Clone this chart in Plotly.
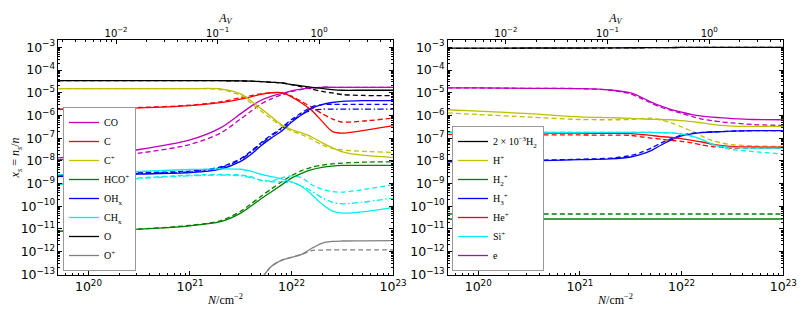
import plotly.graph_objects as go

# column density grid (log10 N / cm^-2)
logN = [19.7, 20.0, 20.5, 21.0, 21.3, 21.5, 21.6, 21.7, 21.8, 21.9,
        22.0, 22.1, 22.2, 22.3, 22.4, 22.5, 22.7, 23.0]
N_AV1 = 1.87e22  # column density at A_V = 1 (top axis)

# ---- left panel: log10 abundances ----
CO_solid = [-7.87, -7.76, -7.50, -7.08, -6.55, -5.92, -5.60, -5.33, -5.16, -5.04, -4.92, -4.84, -4.79, -4.76, -4.76, -4.76, -4.76, -4.76]
CO_dash = [-7.95, -7.88, -7.66, -7.28, -6.78, -6.15, -5.82, -5.50, -5.27, -5.10, -4.95, -4.85, -4.79, -4.76, -4.76, -4.76, -4.76, -4.76]
C_solid = [-5.73, -5.71, -5.67, -5.57, -5.44, -5.28, -5.18, -5.07, -5.00, -5.00, -5.18, -5.45, -5.78, -6.25, -6.70, -6.78, -6.67, -6.45]
C_dash = [-5.73, -5.70, -5.65, -5.55, -5.40, -5.22, -5.13, -5.05, -5.00, -5.01, -5.15, -5.38, -5.65, -5.92, -6.15, -6.29, -6.25, -6.12]
Cp_solid = [-4.82, -4.82, -4.82, -4.82, -4.83, -5.05, -5.35, -5.70, -6.05, -6.40, -6.62, -6.77, -6.95, -7.20, -7.42, -7.60, -7.75, -7.85]
Cp_dash = [-4.82, -4.82, -4.82, -4.82, -4.86, -5.12, -5.45, -5.80, -6.15, -6.45, -6.68, -6.85, -7.05, -7.30, -7.45, -7.52, -7.58, -7.63]
HCOp_solid = [-11.11, -11.07, -11.01, -10.86, -10.68, -10.30, -10.00, -9.67, -9.37, -9.07, -8.76, -8.55, -8.39, -8.29, -8.23, -8.20, -8.20, -8.20]
HCOp_dash = [-11.10, -11.06, -11.00, -10.84, -10.64, -10.22, -9.90, -9.56, -9.24, -8.93, -8.65, -8.43, -8.28, -8.19, -8.13, -8.10, -8.06, -8.04]
OHx_solid = [-8.69, -8.63, -8.58, -8.52, -8.36, -8.02, -7.72, -7.33, -7.00, -6.70, -6.30, -5.97, -5.68, -5.52, -5.43, -5.38, -5.35, -5.35]
OHx_dash = [-8.63, -8.58, -8.52, -8.45, -8.27, -7.90, -7.58, -7.20, -6.86, -6.55, -6.18, -5.88, -5.62, -5.52, -5.51, -5.51, -5.51, -5.51]
OHx_dashdot = [-8.66, -8.61, -8.55, -8.48, -8.30, -7.94, -7.62, -7.25, -6.91, -6.60, -6.24, -5.95, -5.78, -5.73, -5.72, -5.72, -5.72, -5.72]
CHx_solid = [-8.62, -8.56, -8.47, -8.38, -8.35, -8.37, -8.45, -8.59, -8.69, -8.79, -8.92, -9.13, -9.49, -9.90, -10.20, -10.30, -10.25, -10.05]
CHx_dash = [-9.02, -8.90, -8.75, -8.63, -8.60, -8.63, -8.70, -8.85, -8.88, -8.75, -8.66, -8.75, -9.05, -9.25, -9.35, -9.38, -9.27, -9.05]
CHx_dashdot = [-9.05, -8.93, -8.78, -8.66, -8.63, -8.66, -8.74, -8.86, -8.92, -8.92, -8.95, -9.10, -9.34, -9.62, -9.82, -9.89, -9.82, -9.64]
O_solid = [-4.47, -4.47, -4.47, -4.47, -4.47, -4.48, -4.49, -4.51, -4.54, -4.57, -4.64, -4.70, -4.76, -4.81, -4.86, -4.89, -4.89, -4.89]
O_dash = [-4.47, -4.47, -4.47, -4.47, -4.47, -4.48, -4.49, -4.51, -4.54, -4.57, -4.64, -4.74, -4.84, -4.94, -5.01, -5.08, -5.12, -5.13]
Op_solid = [None, None, None, None, None, None, -13.6, -13.2, -12.65, -12.38, -12.25, -12.12, -11.85, -11.63, -11.55, -11.53, -11.52, -11.51]
Op_dash = [None, None, None, None, None, None, -13.6, -13.2, -12.65, -12.38, -12.25, -12.12, -11.95, -11.93, -11.92, -11.92, -11.92, -11.92]

# ---- right panel ----
H2_solid = [-3.04, -3.035, -3.03, -3.03, -3.025, -3.02, -3.02, -3.015, -3.01, -3.01, -3.005, -3.0, -3.0, -3.0, -3.0, -3.0, -3.0, -3.0]
H2_dash = [-3.05, -3.045, -3.04, -3.035, -3.03, -3.025, -3.02, -3.015, -3.01, -3.01, -3.005, -3.0, -3.0, -3.0, -3.0, -3.0, -3.0, -3.0]
Hp_solid = [-5.75, -5.81, -5.92, -6.06, -6.10, -6.13, -6.15, -6.17, -6.18, -6.19, -6.23, -6.27, -6.33, -6.39, -6.44, -6.47, -6.48, -6.48]
Hp_dash = [-5.89, -5.96, -6.07, -6.18, -6.19, -6.18, -6.14, -6.12, -6.20, -6.33, -6.51, -6.69, -6.91, -7.11, -7.22, -7.29, -7.34, -7.37]
H2p_solid = [-10.56] * 18
H2p_dash = [-10.34] * 18
H3p_solid = [-8.04, -8.02, -8.00, -7.95, -7.91, -7.83, -7.72, -7.55, -7.30, -7.08, -6.90, -6.81, -6.76, -6.73, -6.71, -6.69, -6.67, -6.67]
H3p_dash = [-8.02, -8.01, -7.98, -7.93, -7.88, -7.77, -7.63, -7.44, -7.21, -7.02, -6.86, -6.79, -6.75, -6.73, -6.71, -6.69, -6.67, -6.67]
Hep_solid = [-6.75, -6.76, -6.77, -6.78, -6.79, -6.80, -6.84, -6.88, -6.93, -6.97, -7.02, -7.10, -7.17, -7.26, -7.33, -7.37, -7.39, -7.40]
Hep_dash = [-6.83, -6.84, -6.85, -6.86, -6.87, -6.88, -6.94, -7.00, -7.05, -7.10, -7.14, -7.21, -7.30, -7.37, -7.41, -7.44, -7.44, -7.44]
Sip_solid = [-6.75, -6.75, -6.75, -6.75, -6.75, -6.75, -6.75, -6.75, -6.76, -6.77, -6.82, -6.91, -7.06, -7.26, -7.37, -7.41, -7.44, -7.44]
Sip_dash = [-6.75, -6.75, -6.75, -6.75, -6.75, -6.75, -6.75, -6.75, -6.76, -6.77, -6.82, -6.91, -7.06, -7.30, -7.41, -7.50, -7.59, -7.70]
e_solid = [-4.79, -4.79, -4.81, -4.82, -4.88, -5.01, -5.19, -5.41, -5.59, -5.74, -5.85, -5.96, -6.03, -6.07, -6.11, -6.14, -6.18, -6.19]
e_dash = [-4.79, -4.79, -4.81, -4.82, -4.89, -5.06, -5.25, -5.45, -5.65, -5.78, -5.91, -6.04, -6.16, -6.23, -6.29, -6.33, -6.40, -6.44]

# top-axis tick labels
AV_ticks = [0.01, 0.1, 1.0]
AV_labels = ["10<sup>−2</sup>", "10<sup>−1</sup>", "10<sup>0</sup>"]

N = [10 ** v for v in logN]
def lin(arr):
    return [None if v is None else 10 ** v for v in arr]

M, R, Y, G, B, C, K, GR = "#bf00bf", "#ff0000", "#bfbf00", "#008000", "#0000ff", "#00f0f0", "#000000", "#808080"
DASH = "5px,3px"
DASHDOT = "6px,2.5px,1.5px,2.5px"

left = [
    ("CO", M, CO_solid, CO_dash, None),
    ("C", R, C_solid, C_dash, None),
    ("C<sup>+</sup>", Y, Cp_solid, Cp_dash, None),
    ("HCO<sup>+</sup>", G, HCOp_solid, HCOp_dash, None),
    ("OH<sub>x</sub>", B, OHx_solid, OHx_dash, OHx_dashdot),
    ("CH<sub>x</sub>", C, CHx_solid, CHx_dash, CHx_dashdot),
    ("O", K, O_solid, O_dash, None),
    ("O<sup>+</sup>", GR, Op_solid, Op_dash, None),
]
right = [
    ("2 × 10<sup>−3</sup>H<sub>2</sub>", K, H2_solid, H2_dash, None),
    ("H<sup>+</sup>", Y, Hp_solid, Hp_dash, None),
    ("H<sub>2</sub><sup>+</sup>", G, H2p_solid, H2p_dash, None),
    ("H<sub>3</sub><sup>+</sup>", B, H3p_solid, H3p_dash, None),
    ("He<sup>+</sup>", R, Hep_solid, Hep_dash, None),
    ("Si<sup>+</sup>", C, Sip_solid, Sip_dash, None),
    ("e", M, e_solid, e_dash, None),
]

fig = go.Figure()

def add_panel(series, xa, ya, legend):
    for name, col, s, d, dd in series:
        fig.add_trace(go.Scatter(x=N, y=lin(d), xaxis=xa, yaxis=ya, mode="lines",
                                 line=dict(color=col, width=1.3, dash=DASH, shape="spline", smoothing=0.8),
                                 showlegend=False, hoverinfo="skip"))
        if dd is not None:
            fig.add_trace(go.Scatter(x=N, y=lin(dd), xaxis=xa, yaxis=ya, mode="lines",
                                     line=dict(color=col, width=1.3, dash=DASHDOT, shape="spline", smoothing=0.8),
                                     showlegend=False, hoverinfo="skip"))
    for name, col, s, d, dd in series:
        fig.add_trace(go.Scatter(x=N, y=lin(s), xaxis=xa, yaxis=ya, mode="lines", name=name,
                                 line=dict(color=col, width=1.3, shape="spline", smoothing=0.8),
                                 legend=legend))

add_panel(left, "x", "y", "legend")
add_panel(right, "x2", "y2", "legend2")

# invisible traces carrying the A_V top axes
AV = [n / N_AV1 for n in N]
fig.add_trace(go.Scatter(x=AV, y=[None] * len(AV), xaxis="x3", yaxis="y", showlegend=False, hoverinfo="skip"))
fig.add_trace(go.Scatter(x=AV, y=[None] * len(AV), xaxis="x4", yaxis="y2", showlegend=False, hoverinfo="skip"))

tickfont = dict(family="DejaVu Sans", size=10, color="black")
titlefont = dict(family="Liberation Serif", size=12, color="black")
minor = dict(ticks="inside", ticklen=2, tickcolor="black", tickwidth=0.8, dtick="D1", showgrid=False)

xr = [logN[0], logN[-1]]
avr = [logN[0] - 22.2718, logN[-1] - 22.2718]

# the page body has an 8px margin: figure is drawn at (8, 8)
FW, FH = 798, 314
def fx(px):
    return (px - 8) / FW
def fy(py):
    return (FH - (py - 8)) / FH

ydom = [fy(275.3), fy(39.5)]
yr = [-13.04, -2.656]

def xax(dom, anchor):
    return dict(type="log", domain=dom, anchor=anchor, range=xr, dtick=1, exponentformat="power",
                showline=True, linecolor="black", linewidth=1, mirror=True, ticks="inside",
                ticklen=4, tickcolor="black", minor=minor, showgrid=False, zeroline=False,
                tickfont=tickfont, automargin=False,
                title=dict(text="<i>N</i>/cm<sup>−2</sup>", font=titlefont, standoff=2))

def topax(over, anchor):
    return dict(type="log", overlaying=over, anchor=anchor, side="top", range=avr,
                tickmode="array", tickvals=AV_ticks, ticktext=AV_labels,
                ticks="inside", ticklen=4, tickcolor="black",
                minor=minor, showgrid=False, zeroline=False, showline=False, tickfont=tickfont,
                automargin=False, title=dict(text="<i>A<sub>V</sub></i>", font=titlefont, standoff=0))

def yax(anchor, title):
    return dict(type="log", domain=ydom, anchor=anchor, range=yr, dtick=1, exponentformat="power",
                showline=True, linecolor="black", linewidth=1, mirror="ticks", ticks="inside",
                ticklen=4, tickcolor="black", minor=minor, showgrid=False, zeroline=False,
                tickfont=tickfont, automargin=False,
                title=dict(text=title, font=titlefont, standoff=0))

legend_common = dict(bgcolor="white", bordercolor="#999999", borderwidth=1,
                     font=dict(family="Liberation Serif", size=10, color="black"),
                     itemwidth=30, tracegroupgap=0, xanchor="left", yanchor="bottom")

fig.update_layout(
    width=FW, height=FH, margin=dict(l=0, r=0, t=0, b=0),
    paper_bgcolor="white", plot_bgcolor="white", showlegend=True,
    xaxis=xax([fx(58), fx(393)], "y"),
    xaxis2=xax([fx(447.7), fx(783.3)], "y2"),
    xaxis3=topax("x", "y"),
    xaxis4=topax("x2", "y2"),
    yaxis=yax("x", "<i>x<sub>s</sub></i> = <i>n<sub>s</sub></i>/<i>n</i>"),
    yaxis2=yax("x2", ""),
    legend=dict(x=fx(63), y=fy(271), **legend_common),
    legend2=dict(x=fx(452), y=fy(271), **legend_common),
)

fig.write_html("out.html")
